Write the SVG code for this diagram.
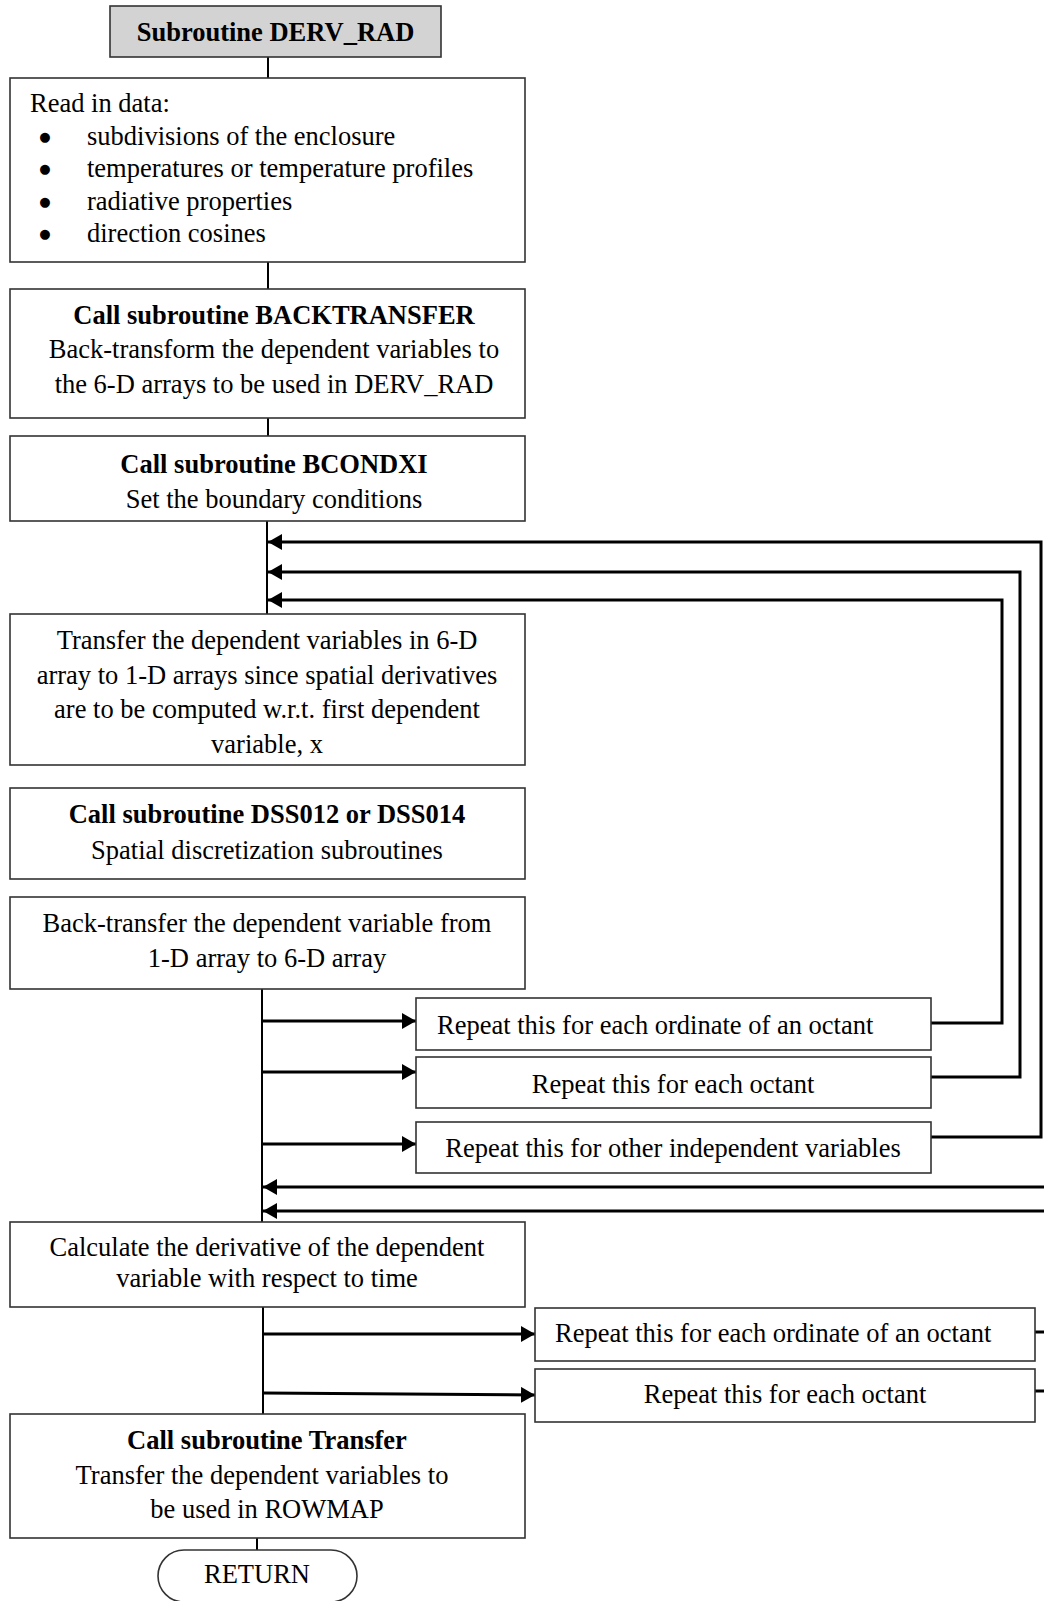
<svg xmlns="http://www.w3.org/2000/svg" width="1044" height="1601" viewBox="0 0 1044 1601">
<defs>
<marker id="ah" markerUnits="userSpaceOnUse" markerWidth="15" markerHeight="16" refX="14" refY="8" orient="auto">
<path d="M0,0 L14,8 L0,16 z" fill="#000"/>
</marker>
<style>
.box{fill:#fff;stroke:#333;stroke-width:1.6}
.title{fill:#d3d3d3;stroke:#333;stroke-width:1.6}
text{font-family:"Liberation Serif","Times New Roman",serif;font-size:26.5px;fill:#000}
.b{font-weight:bold}
.m{text-anchor:middle}
.bul{font-size:13px;text-anchor:middle;font-family:"DejaVu Sans",sans-serif}
.ln{stroke:#000;stroke-width:2;fill:none}
.ar{stroke:#000;stroke-width:3;fill:none}
</style>
</defs>
<rect width="1044" height="1601" fill="#fff"/>
<g id="connectors">
<line class="ln" x1="268" y1="57" x2="268" y2="78"/>
<line class="ln" x1="268" y1="262" x2="268" y2="289"/>
<line class="ln" x1="268" y1="418" x2="268" y2="436"/>
<line class="ln" x1="267" y1="521" x2="267" y2="614"/>
<line class="ln" x1="262" y1="989" x2="262" y2="1222"/>
<line class="ln" x1="263" y1="1307" x2="263" y2="1414"/>
<line class="ln" x1="257" y1="1538" x2="257" y2="1550"/>
<polyline class="ar" points="931,1137 1041,1137 1041,542 268,542" marker-end="url(#ah)"/>
<polyline class="ar" points="931,1077 1020,1077 1020,572 268,572" marker-end="url(#ah)"/>
<polyline class="ar" points="931,1023 1002,1023 1002,600 268,600" marker-end="url(#ah)"/>
<line class="ar" x1="262" y1="1021" x2="416" y2="1021" marker-end="url(#ah)"/>
<line class="ar" x1="262" y1="1072" x2="416" y2="1072" marker-end="url(#ah)"/>
<line class="ar" x1="262" y1="1144" x2="416" y2="1144" marker-end="url(#ah)"/>
<line class="ar" x1="1044" y1="1187" x2="263" y2="1187" marker-end="url(#ah)"/>
<line class="ar" x1="1044" y1="1211" x2="263" y2="1211" marker-end="url(#ah)"/>
<line class="ar" x1="263" y1="1334" x2="535" y2="1334" marker-end="url(#ah)"/>
<line class="ar" x1="263" y1="1393" x2="535" y2="1395" marker-end="url(#ah)"/>
<line class="ar" x1="1035" y1="1332" x2="1044" y2="1332"/>
<line class="ar" x1="1035" y1="1391" x2="1044" y2="1391"/>
</g>
<g id="n-title">
<rect class="title" x="110" y="6" width="331" height="51"/>
<text class="b m" x="275.5" y="41">Subroutine DERV_RAD</text>
</g>
<g id="n-read">
<rect class="box" x="10" y="78" width="515" height="184"/>
<text x="30" y="112">Read in data:</text>
<text class="bul" x="45" y="141">●</text><text x="87" y="145">subdivisions of the enclosure</text>
<text class="bul" x="45" y="173">●</text><text x="87" y="177">temperatures or temperature profiles</text>
<text class="bul" x="45" y="206">●</text><text x="87" y="210">radiative properties</text>
<text class="bul" x="45" y="238">●</text><text x="87" y="242">direction cosines</text>
</g>
<g id="n-backtransfer">
<rect class="box" x="10" y="289" width="515" height="129"/>
<text class="b m" x="274" y="324">Call subroutine BACKTRANSFER</text>
<text class="m" x="274" y="358">Back-transform the dependent variables to</text>
<text class="m" x="274" y="393">the 6-D arrays to be used in DERV_RAD</text>
</g>
<g id="n-bcondxi">
<rect class="box" x="10" y="436" width="515" height="85"/>
<text class="b m" x="274" y="473">Call subroutine BCONDXI</text>
<text class="m" x="274" y="508">Set the boundary conditions</text>
</g>
<g id="n-transfer1d">
<rect class="box" x="10" y="614" width="515" height="151"/>
<text class="m" x="267" y="649">Transfer the dependent variables in 6-D</text>
<text class="m" x="267" y="684">array to 1-D arrays since spatial derivatives</text>
<text class="m" x="267" y="718">are to be computed w.r.t. first dependent</text>
<text class="m" x="267" y="753">variable, x</text>
</g>
<g id="n-dss">
<rect class="box" x="10" y="788" width="515" height="91"/>
<text class="b m" x="267" y="823">Call subroutine DSS012 or DSS014</text>
<text class="m" x="267" y="859">Spatial discretization subroutines</text>
</g>
<g id="n-backtransfer1d">
<rect class="box" x="10" y="897" width="515" height="92"/>
<text class="m" x="267" y="932">Back-transfer the dependent variable from</text>
<text class="m" x="267" y="967">1-D array to 6-D array</text>
</g>
<g id="n-rep-ordinate">
<rect class="box" x="416" y="998" width="515" height="52"/>
<text x="437" y="1034">Repeat this for each ordinate of an octant</text>
</g>
<g id="n-rep-octant">
<rect class="box" x="416" y="1057" width="515" height="51"/>
<text class="m" x="673" y="1093">Repeat this for each octant</text>
</g>
<g id="n-rep-indep">
<rect class="box" x="416" y="1122" width="515" height="51"/>
<text class="m" x="673" y="1157">Repeat this for other independent variables</text>
</g>
<g id="n-calc">
<rect class="box" x="10" y="1222" width="515" height="85"/>
<text class="m" x="267" y="1256">Calculate the derivative of the dependent</text>
<text class="m" x="267" y="1287">variable with respect to time</text>
</g>
<g id="n-rep-ordinate2">
<rect class="box" x="535" y="1308" width="500" height="53"/>
<text x="555" y="1342">Repeat this for each ordinate of an octant</text>
</g>
<g id="n-rep-octant2">
<rect class="box" x="535" y="1369" width="500" height="53"/>
<text class="m" x="785" y="1403">Repeat this for each octant</text>
</g>
<g id="n-transfer">
<rect class="box" x="10" y="1414" width="515" height="124"/>
<text class="b m" x="267" y="1449">Call subroutine Transfer</text>
<text class="m" x="262" y="1484">Transfer the dependent variables to</text>
<text class="m" x="267" y="1518">be used in ROWMAP</text>
</g>
<g id="n-return">
<rect class="box" x="158" y="1550" width="199" height="52" rx="26" ry="26"/>
<text class="m" x="257" y="1583">RETURN</text>
</g>
</svg>
